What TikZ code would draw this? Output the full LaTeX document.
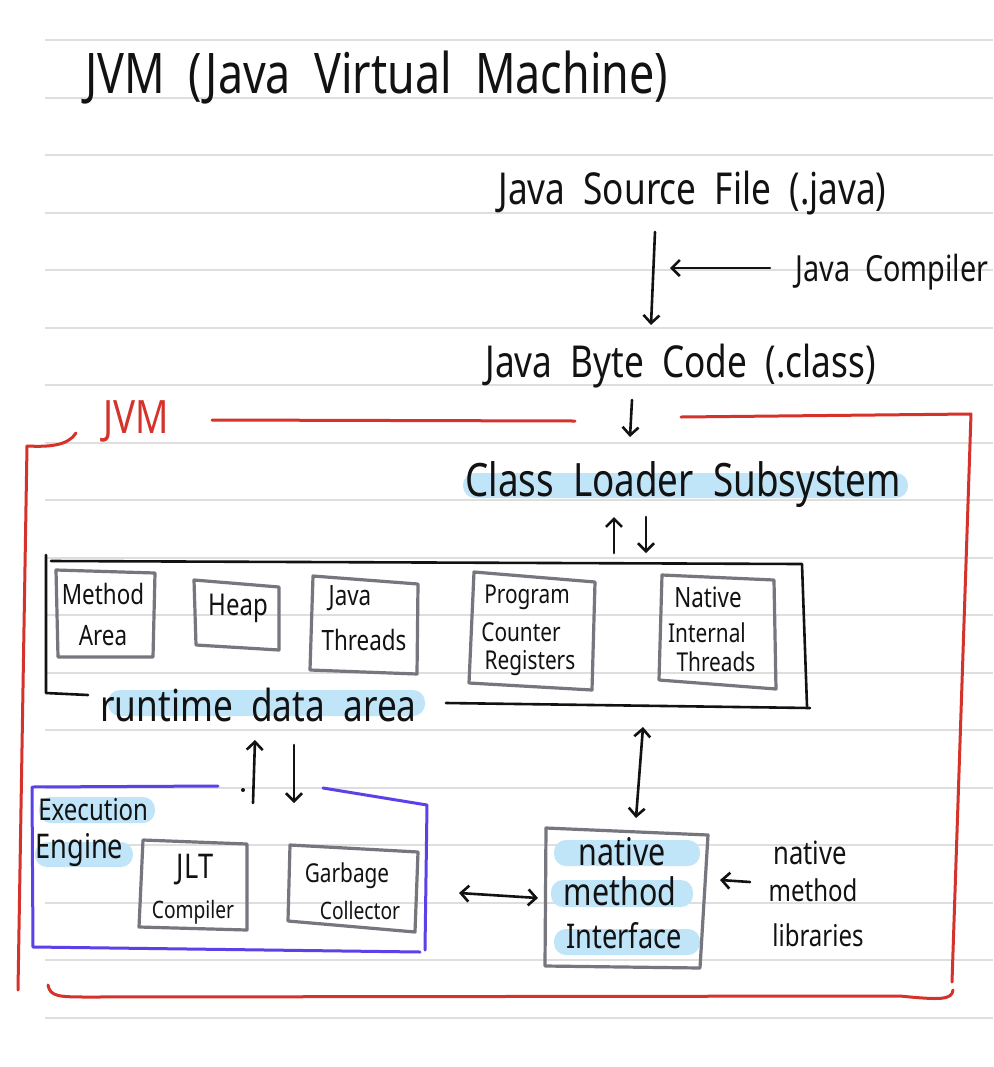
\documentclass[tikz,border=0pt]{standalone}
\usepackage{fontspec}
\setmainfont{Noto Sans}[FakeStretch=0.8, WordSpace=2]
\usetikzlibrary{arrows.meta}

\definecolor{pen}{RGB}{18,18,18}
\definecolor{ruling}{RGB}{222,222,222}
\definecolor{jvmred}{RGB}{212,50,42}
\definecolor{engblue}{RGB}{90,66,232}
\definecolor{boxgray}{RGB}{118,118,126}
\definecolor{marker}{RGB}{192,229,248}

\tikzset{
  ink/.style={draw=pen, line width=1.3pt, line cap=round, line join=round},
  arr/.style={ink, -{Straight Barb[length=4pt,width=8pt]}},
  darr/.style={ink, {Straight Barb[length=4pt,width=8pt]}-{Straight Barb[length=4pt,width=8pt]}},
  gbox/.style={draw=boxgray, line width=1.6pt, line cap=round, line join=round},
  redpen/.style={draw=jvmred, line width=1.5pt, line cap=round, line join=round},
  bluepen/.style={draw=engblue, line width=1.5pt, line cap=round, line join=round},
  hl/.style={fill=marker, rounded corners=6pt},
  hand/.style={inner sep=0pt, text=pen, font=\fontsize{#1}{#1}\selectfont},
}

\begin{document}
\begin{tikzpicture}[x=0.5pt,y=-0.5pt]
\useasboundingbox (0,0) rectangle (993,1067);
\fill[white] (0,0) rectangle (993,1067);

% ruled paper
\foreach \k in {0,...,17}
  \draw[ruling, line width=1pt] (45,40+57.5*\k) -- (993,40+57.5*\k);

% marker highlights
\fill[hl] (463,473) rectangle (908,498);
\fill[hl] (108,690) rectangle (425,716);
\fill[hl] (39,797) rectangle (155,823);
\fill[hl] (35,842) rectangle (133,867);
\fill[hl] (554,840) rectangle (700,866);
\fill[hl] (551,880) rectangle (693,907);
\fill[hl] (554,929) rectangle (700,955);

% texts
\node[hand=28, anchor=west] (title) at (85,78) {JVM (Java Virtual Machine)};
\node[hand=22, anchor=west] (src) at (498,193) {Java Source File (.java)};
\node[hand=18, anchor=west] (javac) at (795,272) {Java Compiler};
\node[hand=22, anchor=west] (bytecode) at (485,366) {Java Byte Code (.class)};
\node[hand=23, anchor=west, text=jvmred] (jvm) at (103,421) {JVM};
\node[hand=23, anchor=west] (loader) at (465,485) {Class Loader Subsystem};
\node[hand=22, anchor=west] (rda) at (100,705) {runtime data area};

\node[hand=14] (method) at (103,594) {Method};
\node[hand=14] (area) at (103,636) {Area};
\node[hand=15] (heap) at (238,608) {Heap};
\node[hand=14] (java) at (350,598) {Java};
\node[hand=14] (jthreads) at (364,640) {Threads};
\node[hand=13] (program) at (527,597) {Program};
\node[hand=13] (counter) at (521,632) {Counter};
\node[hand=13] (registers) at (530,663) {Registers};
\node[hand=14] (native1) at (708,597) {Native};
\node[hand=13] (internal) at (707,633) {Internal};
\node[hand=13] (nthreads) at (716,662) {Threads};

\node[hand=15, anchor=west] (execution) at (38,810) {Execution};
\node[hand=17, anchor=west] (engine) at (35,850) {Engine};
\node[hand=17] (jlt) at (195,870) {JLT};
\node[hand=12] (jitcomp) at (193,912) {Compiler};
\node[hand=13] (garbage) at (347,876) {Garbage};
\node[hand=12] (collector) at (360,910) {Collector};

\node[hand=19] (nmi1) at (622,852) {native};
\node[hand=19] (nmi2) at (620,891) {method};
\node[hand=17] (nmi3) at (624,936) {Interface};
\node[hand=16] (lib1) at (810,853) {native};
\node[hand=15] (lib2) at (813,890) {method};
\node[hand=15] (lib3) at (818,935) {libraries};

% JVM frame
\draw[redpen] (212,420) -- (575,421);
\draw[redpen] (681,417) -- (971,414) -- (952,982);
\draw[redpen] (76,433) .. controls (68,446) and (48,447) .. (27,446) -- (18,990);
\draw[redpen] (48,985) .. controls (50,997) and (60,997) .. (90,997) -- (900,996) .. controls (940,1000) and (952,1000) .. (953,990);

% runtime data area frame
\draw[ink] (51,561) -- (802,564) -- (807,706);
\draw[ink] (46,555) -- (46,693) -- (88,695);
\draw[ink] (446,703) -- (810,708);
\draw[gbox] (56,570) -- (155,573) -- (153,657) -- (58,657) -- cycle;
\draw[gbox] (194,580) -- (279,587) -- (279,650) -- (196,645) -- cycle;
\draw[gbox] (313,576) -- (418,584) -- (417,674) -- (310,670) -- cycle;
\draw[gbox] (474,572) -- (595,582) -- (592,690) -- (469,683) -- cycle;
\draw[gbox] (662,575) -- (774,580) -- (776,689) -- (659,680) -- cycle;

% execution engine frame
\draw[bluepen] (218,786) -- (32,787) -- (33,947) -- (420,952);
\draw[bluepen] (323,788) -- (427,805) -- (425,950);
\draw[gbox] (143,840) -- (247,844) -- (247,930) -- (139,927) -- cycle;
\draw[gbox] (290,845) -- (418,852) -- (415,932) -- (288,921) -- cycle;

% native method interface frame
\draw[gbox] (546,828) -- (708,835) -- (700,968) -- (545,966) -- cycle;

% connectors
\coordinate (srcout) at (655,232);
\coordinate (bcin) at (651,325);
\coordinate (javacout) at (770,268);
\coordinate (javacin) at (670,268);
\coordinate (bcout) at (632,400);
\coordinate (loaderin) at (630,437);
\coordinate (upfrom) at (614,553);
\coordinate (upto) at (614,517);
\coordinate (downfrom) at (646,517);
\coordinate (downto) at (646,553);
\coordinate (eup1) at (253,803);
\coordinate (eup2) at (255,740);
\coordinate (edown1) at (294,745);
\coordinate (edown2) at (294,803);
\coordinate (rdanmi) at (643,727);
\coordinate (nmitop) at (636,818);
\coordinate (engright) at (459,893);
\coordinate (nmileft) at (538,898);
\coordinate (libout) at (750,882);
\coordinate (nmiright) at (720,880);

\draw[arr] (srcout) -- (bcin);
\draw[arr] (javacout) -- (javacin);
\draw[arr] (bcout) -- (loaderin);
\draw[arr] (upfrom) -- (upto);
\draw[arr] (downfrom) -- (downto);
\draw[arr] (eup1) -- (eup2);
\draw[arr] (edown1) -- (edown2);
\fill[pen] (243,790) circle (1pt);
\draw[darr] (rdanmi) -- (nmitop);
\draw[darr] (engright) -- (nmileft);
\draw[arr] (libout) -- (nmiright);
\end{tikzpicture}
\end{document}
